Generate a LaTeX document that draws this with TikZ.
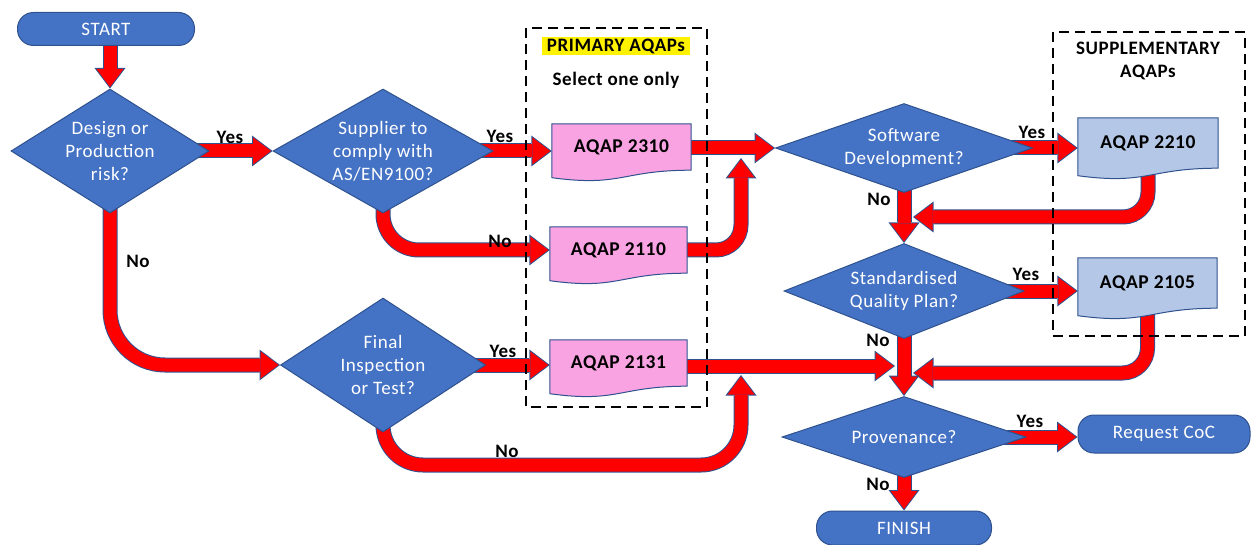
\documentclass[tikz,border=0pt]{standalone}
\usepackage{fontspec}
\setmainfont{Carlito}[LetterSpace=3]
\usetikzlibrary{
    arrows.meta,
    shapes.geometric,
    calc,
    positioning
}
\definecolor{shapefill}{HTML}{4472C4}
\definecolor{shapeline}{HTML}{2F528F}
\definecolor{primfill}{RGB}{249,163,226}
\definecolor{suppfill}{HTML}{B4C7E7}
\pgfdeclarelayer{flows}
\pgfdeclarelayer{docs}
\pgfsetlayers{flows,docs,main}

% wavy document outline drawn under a node
\newcommand{\docoutline}[2]{%
    \filldraw[fill=#2, draw=shapeline, line width=1pt]
    (#1.north west) -- (#1.north east) -- (#1.south east)
    .. controls (#1.south) and ([yshift=-17pt]#1.south) .. ([yshift=-7.5pt]#1.south west)
    -- cycle;}

\begin{document}
\begin{tikzpicture}[x=1pt, y=1pt,
    every node/.style={font=\fontsize{19}{23}\selectfont},
    decision/.style n args={2}{diamond, draw=shapeline, fill=shapefill, line width=1pt,
        inner sep=0pt, minimum width=#1, minimum height=#2},
    dtext/.style={text=white, align=center, inner sep=0pt},
    term/.style n args={2}{rectangle, rounded corners=16pt, draw=shapeline, fill=shapefill,
        line width=1pt, text=white, minimum width=#1, minimum height=#2},
    doc/.style n args={2}{rectangle, inner sep=0pt, minimum width=#1, minimum height=#2,
        font=\fontsize{19.5}{23}\selectfont\bfseries},
    lbl/.style={font=\fontsize{19}{23}\selectfont\bfseries, inner sep=0pt},
    flow/.style={draw=red, line width=13pt, shorten >=1.5pt,
        -{Triangle[length=18pt, width=27pt, line width=0pt]},
        preaction={draw=shapeline, line width=15pt, shorten >=0pt,
            -{Triangle[length=20.5pt, width=31pt, line width=0pt]}}},
    frame/.style={draw=black, line width=2.5pt, dash pattern=on 10pt off 6pt}
]
    \path[use as bounding box] (0,0) rectangle (1252,-545);

    % terminators
    \node[term={177pt}{33pt}] (start) at (106,-29) {START};
    \node[term={175pt}{34pt}] (finish) at (904,-528) {FINISH};
    \node[term={172pt}{38pt}] (coc) at (1164,-434) {Request CoC};

    % decisions
    \node[decision={198pt}{124pt}] (d1) at (110,-151) {};
    \node[dtext] (d1txt) at (d1) {Design or\\Production\\risk?};
    \node[decision={220pt}{124pt}] (d2) at (383,-151) {};
    \node[dtext] (d2txt) at (d2) {Supplier to\\comply with\\AS/EN9100?};
    \node[decision={205pt}{134pt}] (d3) at (383,-365) {};
    \node[dtext] (d3txt) at (d3) {Final\\Inspection\\or Test?};
    \node[decision={257pt}{89pt}] (d4) at (904,-148) {};
    \node[dtext] (d4txt) at (d4) {Software\\Development?};
    \node[decision={240pt}{95pt}] (d5) at (904,-291) {};
    \node[dtext] (d5txt) at (d5) {Standardised\\Quality Plan?};
    \node[decision={244pt}{81pt}] (d6) at (904,-437) {};
    \node[dtext] (d6txt) at (d6) {Provenance?};

    % documents
    \node[doc={139pt}{46pt}] (a2310) at (621.5,-147) {AQAP 2310};
    \node[doc={137pt}{46pt}] (a2110) at (618.5,-250) {AQAP 2110};
    \node[doc={137pt}{46pt}] (a2131) at (618.5,-363) {AQAP 2131};
    \node[doc={140pt}{50pt}] (a2210) at (1148,-143) {AQAP 2210};
    \node[doc={139pt}{50pt}] (a2105) at (1147.5,-283) {AQAP 2105};
    \begin{pgfonlayer}{docs}
        \docoutline{a2310}{primfill}
        \docoutline{a2110}{primfill}
        \docoutline{a2131}{primfill}
        \docoutline{a2210}{suppfill}
        \docoutline{a2105}{suppfill}
    \end{pgfonlayer}

    % joins on other arrows
    \coordinate (j1) at (741,-158);
    \coordinate (j2) at (741,-375);
    \coordinate (m1) at (913,-217);
    \coordinate (m2) at (895,-366);
    \coordinate (m3) at (913,-373);

    \begin{pgfonlayer}{flows}
        \draw[flow] (d1.north |- start.center) -- (d1.north);
        \draw[flow] (d1.center) -- (d2.west);
        \draw[flow] (d2.center) -- (d2.center -| a2310.west);
        \draw[flow] (d4.west -| a2310.east) -- (d4.west);
        \draw[flow, rounded corners=36pt] (d2.center) |- (a2110.west);
        \draw[flow, rounded corners=25pt] (a2110.east) -| (j1);
        \draw[flow, rounded corners=55pt] (d1.center) |- (d3.west);
        \draw[flow] (d3.center) -- (d3.center -| a2131.west);
        \draw[flow, rounded corners=40pt] (d3.center) |- ([yshift=-90pt]j2) -- (j2);
        \draw[flow] (a2131.east |- m2) -- (m2);
        \draw[flow] (d4.center) -- (d4.center -| a2210.west);
        \draw[flow, rounded corners=25pt] (a2210.south) |- (m1);
        \draw[flow] (d4.center) -- (d5.north);
        \draw[flow] (d5.center) -- (d5.center -| a2105.west);
        \draw[flow, rounded corners=25pt] (a2105.south) |- (m3);
        \draw[flow] (d5.center) -- (d6.north);
        \draw[flow] (d6.center) -- (d6.center -| coc.west);
        \draw[flow] (d6.center) -- (finish.north);
    \end{pgfonlayer}

    % yes / no labels
    \node[lbl] (yes1) at (230,-137) {Yes};
    \node[lbl] (no1) at (138,-261) {No};
    \node[lbl] (yes2) at (500,-136) {Yes};
    \node[lbl] (no2) at (500,-241) {No};
    \node[lbl] (yes3) at (503,-351) {Yes};
    \node[lbl] (no3) at (507,-451) {No};
    \node[lbl] (yes4) at (1032,-132) {Yes};
    \node[lbl] (no4) at (879,-199) {No};
    \node[lbl] (yes5) at (1026,-274) {Yes};
    \node[lbl] (no5) at (878,-340) {No};
    \node[lbl] (yes6) at (1030,-421) {Yes};
    \node[lbl] (no6) at (878,-484) {No};

    % groups
    \draw[frame] (526,-28) rectangle (707,-407);
    \draw[frame] (1053,-32) rectangle (1245,-336);
    \node[lbl, fill=yellow, inner xsep=5pt, inner ysep=2pt] (primtitle) at (616,-46) {PRIMARY AQAPs};
    \node[lbl] (primnote) at (616,-80) {Select one only};
    \node[lbl, align=center] (supptitle) at (1148,-61) {SUPPLEMENTARY\\AQAPs};
\end{tikzpicture}
\end{document}
